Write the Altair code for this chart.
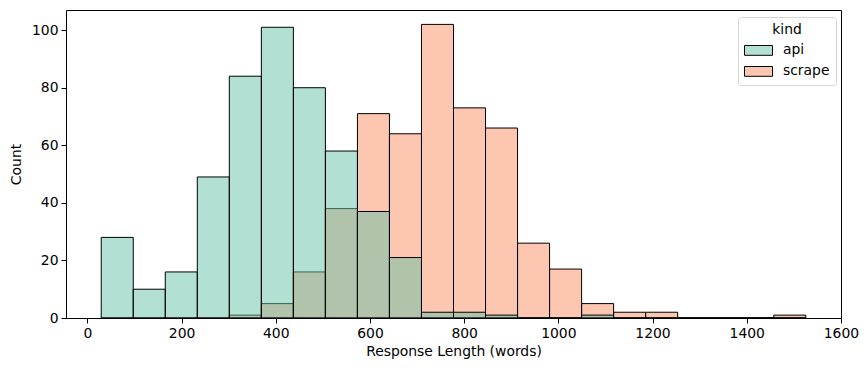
import altair as alt
import pandas as pd

bin_edges = [29.4, 97.4, 165.4, 233.4, 301.4, 369.4, 437.4, 505.4, 573.4, 641.4,
             709.4, 777.4, 845.4, 913.4, 981.4, 1049.4, 1117.4, 1185.4, 1253.4,
             1321.4, 1389.4, 1457.4, 1525.4]
api_counts = [28, 10, 16, 49, 84, 101, 80, 58, 37, 21, 2, 2, 1, 0, 0, 1, 0, 0, 0, 0, 0, 0]
scrape_counts = [0, 0, 0, 0, 1, 5, 16, 38, 71, 64, 102, 73, 66, 26, 17, 5, 2, 2, 0, 0, 0, 1]
kinds = ["api", "scrape"]
colors = ["#66c2a5", "#fc8d62"]
legend_colors = ["#b3e0d2", "#fdc6b0"]  # colours at alpha 0.5 on white

rows = []
# scrape drawn first so api sits on top (as seaborn layers it)
for kind, counts in (("scrape", scrape_counts), ("api", api_counts)):
    for i, c in enumerate(counts):
        rows.append({"kind": kind, "start": bin_edges[i], "end": bin_edges[i + 1], "count": c})
df = pd.DataFrame(rows)

font = "DejaVu Sans"
fs = 13.9

x_enc = alt.X("start:Q",
              scale=alt.Scale(domain=[-45.4, 1600.2], nice=False, zero=False),
              axis=alt.Axis(title="Response Length (words)", format="d", labelFlush=False,
                            values=list(range(0, 1601, 200))))
y_enc = alt.Y("count:Q", stack=None,
              scale=alt.Scale(domain=[0, 107], nice=False),
              axis=alt.Axis(title="Count", format="d", labelFlush=False,
                            values=list(range(0, 101, 20))))

bars = alt.Chart(df).mark_rect(
    fillOpacity=0.5, stroke="black", strokeWidth=1
).encode(
    x=x_enc,
    x2="end:Q",
    y=y_enc,
    fill=alt.Fill("kind:N", scale=alt.Scale(domain=kinds, range=colors), legend=None),
    order=alt.Order("ord:Q"),
).transform_calculate(ord="datum.kind == 'scrape' ? 0 : 1")

legend_layer = alt.Chart(df).mark_rect(strokeWidth=0).encode(
    x=alt.X("start:Q"),
    x2="start:Q",
    y=alt.Y("count:Q", stack=None),
    y2="count:Q",
    fill=alt.Fill("kind:N", scale=alt.Scale(domain=kinds, range=legend_colors),
                  legend=alt.Legend(title="kind", orient="none", legendX=672, legendY=7,
                                    symbolType="M-2,-0.7L2,-0.7L2,0.7L-2,0.7Z",
                                    symbolSize=196, symbolOffset=7, labelOffset=17,
                                    symbolStrokeColor="black", symbolStrokeWidth=1,
                                    titleAlign="center", titleAnchor="middle",
                                    titleFontWeight="normal", titleFontSize=fs,
                                    labelFontSize=fs, titleFont=font, labelFont=font,
                                    labelColor="black", titleColor="black",
                                    titlePadding=6, strokeColor="#d6d6d6", cornerRadius=3,
                                    padding=6, fillColor="white", rowPadding=6)),
)

chart = alt.layer(bars, legend_layer).resolve_scale(fill="independent").properties(
    width=775, height=308,
    padding={"left": 66, "top": 10, "right": 26, "bottom": 53},
    autosize=alt.AutoSizeParams(type="none"),
).configure_view(
    stroke="black", strokeWidth=1
).configure_axis(
    grid=False, domain=False, tickColor="black", tickSize=5, tickWidth=1,
    labelFont=font, titleFont=font, labelFontSize=fs, titleFontSize=fs,
    labelColor="black", titleColor="black", titleFontWeight="normal", labelPadding=3,
).configure_axisX(titlePadding=5).configure_axisY(titlePadding=8)

chart.save("out.html", embed_options={"renderer": "svg", "actions": False})
